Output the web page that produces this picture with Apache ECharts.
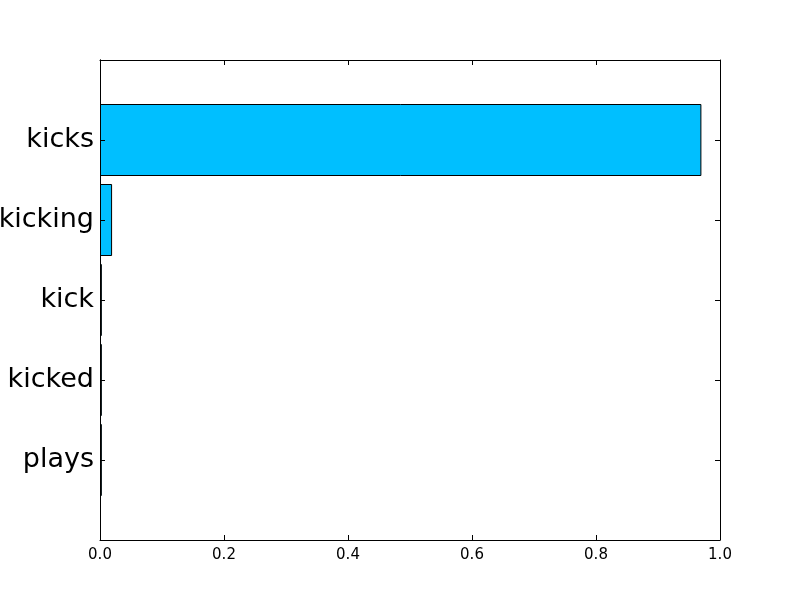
<!DOCTYPE html>
<html>
<head>
<meta charset="utf-8">
<script src="https://cdn.jsdelivr.net/npm/echarts@6/dist/echarts.min.js"></script>
<style>
  html, body { margin: 0; padding: 0; background: #fff; }
  #main { width: 800px; height: 600px; }
</style>
</head>
<body>
<div id="main"></div>
<script>
// categories bottom to top, padded with blanks so the bars sit one step in from each edge
var words = ['', 'plays', 'kicked', 'kick', 'kicking', 'kicks', ''];
var scores = [null, 0.003, 0.003, 0.003, 0.0195, 0.97, null];
var xTicks = [0, 0.2, 0.4, 0.6, 0.8, 1.0];

var myChart = echarts.init(document.getElementById('main'));
function frameAxis(extra) {
  var ax = {
    z: 5,
    axisLine: { show: true, onZero: false, lineStyle: { color: '#000', width: 1 } },
    // negative length draws the tick into the plot area
    axisTick: { show: true, inside: false, length: -5, interval: 0, lineStyle: { color: '#000', width: 1 } },
    splitLine: { show: false },
    axisLabel: { show: false }
  };
  for (var k in extra) ax[k] = extra[k];
  return ax;
}
var option = {
  animation: false,
  backgroundColor: '#fff',
  textStyle: { fontFamily: 'DejaVu Sans' },
  grid: { left: 100, right: 80, top: 60, bottom: 60, containLabel: false, outerBoundsMode: 'none' },
  xAxis: [
    frameAxis({
      type: 'value',
      position: 'bottom',
      min: xTicks[0],
      max: xTicks[xTicks.length - 1],
      interval: 0.2,
      axisLabel: {
        show: true,
        color: '#000',
        fontSize: 15,
        margin: 8,
        formatter: function (v) { return v.toFixed(1); }
      }
    }),
    frameAxis({
      type: 'value',
      position: 'top',
      min: xTicks[0],
      max: xTicks[xTicks.length - 1],
      interval: 0.2
    })
  ],
  yAxis: [
    frameAxis({
      type: 'category',
      position: 'left',
      data: words,
      boundaryGap: false,
      axisLabel: { show: true, color: '#000', fontSize: 27, margin: 6, interval: 0 }
    }),
    frameAxis({
      type: 'category',
      position: 'right',
      data: words,
      boundaryGap: false
    }),
    // label-free copy of the left axis, only for its inward ticks
    frameAxis({
      type: 'category',
      position: 'left',
      offset: 0,
      data: words,
      boundaryGap: false
    })
  ],
  series: [
    {
      type: 'bar',
      z: 2,
      xAxisIndex: 0,
      yAxisIndex: 0,
      barWidth: 72,
      itemStyle: { color: '#00BFFF', borderColor: '#000', borderWidth: 1 },
      data: scores
    }
  ]
};
myChart.setOption(option);
</script>
</body>
</html>
